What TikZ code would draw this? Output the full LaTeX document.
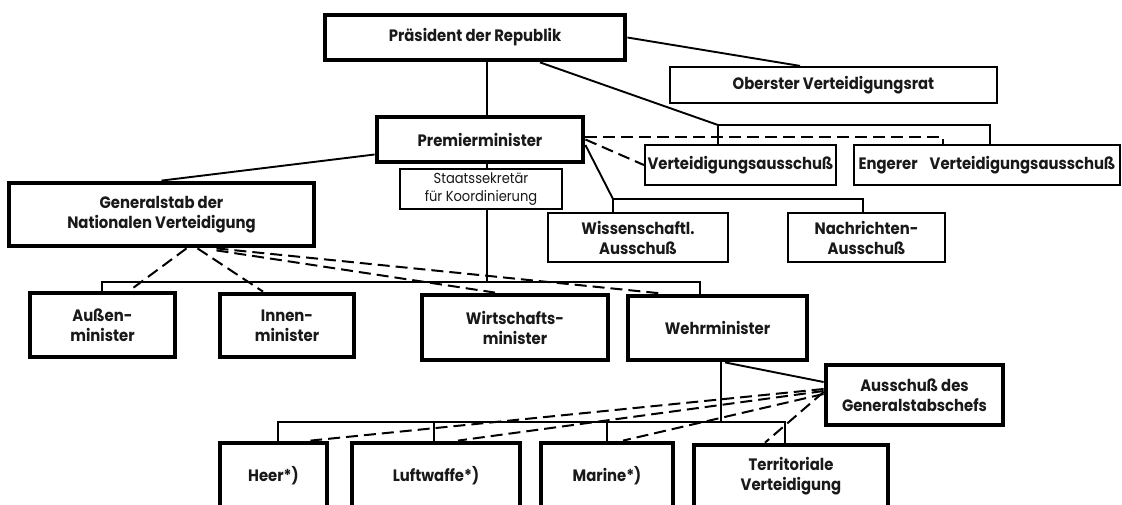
\documentclass[tikz,border=0pt]{standalone}
\usepackage{fontspec}
\setmainfont{Poppins}[FakeStretch=0.9]
\begin{document}
\begin{tikzpicture}[x=1pt,y=-1pt,
  every node/.style={font=\fontsize{16.5}{20}\selectfont\bfseries, align=center, inner sep=0pt, text=black!90},
  thickbox/.style={draw, line width=4.8pt, rectangle, fill=white},
  thinbox/.style={draw, line width=2.2pt, rectangle, fill=white},
  conn/.style={line width=1.9pt},
  dconn/.style={line width=2pt, dash pattern=on 12pt off 6pt},
]
\useasboundingbox (0,0) rectangle (1122,504);
\clip (0,0) rectangle (1122,504);
\fill[white] (0,0) rectangle (1122,504);

% boxes
\node[thickbox, minimum width=300, minimum height=45] (pres) at (475,37.5) {Präsident der Republik};
\node[thinbox, minimum width=327, minimum height=36] (ober) at (833.5,85) {Oberster Verteidigungsrat};
\node[thickbox, minimum width=206, minimum height=45] (prem) at (480,139.5) {Premierminister};
\node[thinbox, minimum width=191, minimum height=40] (vert) at (740.5,165) {Verteidigungsausschuß};
\node[thinbox, minimum width=266, minimum height=40] (enger) at (987,165) {Engerer\hspace{12pt}Verteidigungsausschuß};
\node[thickbox, minimum width=305, minimum height=63] (gen) at (161.5,214.5) {Generalstab der\\Nationalen Verteidigung};
\node[thinbox, minimum width=162, minimum height=40, font=\fontsize{14.5}{18}\selectfont] (staats) at (481,189) {Staatssekretär\\für Koordinierung};
\node[thinbox, minimum width=180, minimum height=49] (wiss) at (638,237.5) {Wissenschaftl.\\Ausschuß};
\node[thinbox, minimum width=157, minimum height=49] (nach) at (866.5,237.5) {Nachrichten-\\Ausschuß};
\node[thickbox, minimum width=145, minimum height=64] (aussen) at (102.5,325) {Außen-\\minister};
\node[thickbox, minimum width=134, minimum height=63] (innen) at (287,325.5) {Innen-\\minister};
\node[thickbox, minimum width=186, minimum height=65] (wirt) at (515,327.5) {Wirtschafts-\\minister};
\node[thickbox, minimum width=179, minimum height=64] (wehr) at (717.5,328) {Wehrminister};
\node[thickbox, minimum width=177, minimum height=60] (agc) at (914.5,395) {Ausschuß des\\Generalstabschefs};
\node[thickbox, minimum width=107, minimum height=65] (heer) at (273.5,475.5) {Heer*)};
\node[thickbox, minimum width=168, minimum height=65] (luft) at (436,475.5) {Luftwaffe*)};
\node[thickbox, minimum width=132, minimum height=65] (marine) at (607,475.5) {Marine*)};
\node[thickbox, minimum width=194, minimum height=63] (terr) at (791,476.5) {Territoriale\\Verteidigung};

% helper coordinates
\coordinate (vx) at (487,0);
\coordinate (barL) at (102,282);
\coordinate (barR) at (700,282);
\coordinate (b1) at (718,125);
\coordinate (b2) at (990,125);
\coordinate (d1) at (943,137);
\coordinate (c1) at (613,199);
\coordinate (c2) at (863,199);
\coordinate (o1) at (800,0);
\coordinate (vb) at (721,0);
\coordinate (bbL) at (278,422);
\coordinate (bbR) at (785,422);
\coordinate (lx) at (434,0);

% solid connectors
\draw[conn] (pres.south -| vx) -- (prem.north -| vx);
\draw[conn] (prem.south -| vx) -- (staats.north -| vx);
\draw[conn] (staats.south -| vx) -- (vx |- barL);
\draw[conn] (aussen.north -| barL) -- (barL) -- (barR) -- (wehr.north -| barR);
\draw[conn] (pres.east) -- (ober.north -| o1);
\draw[conn] ([xshift=65pt]pres.south) -- (b1);
\draw[conn] (vert.north -| b1) -- (b1) -- (b2) -- (enger.north -| b2);
\draw[conn] ([yshift=-5.5pt]prem.east) -- (c1) -- (c2) -- (nach.north -| c2);
\draw[conn] (c1) -- (wiss.north -| c1);
\draw[conn] ([yshift=-15pt]prem.west) -- (gen.north);
\draw[conn] (wehr.south -| vb) -- (vb |- bbL);
\draw[conn] (heer.north -| bbL) -- (bbL) -- (bbR) -- (terr.north -| bbR);
\draw[conn] (luft.north -| lx) -- (lx |- bbL);
\draw[conn] (marine.north) -- (marine.north |- bbL);
\draw[conn] ([xshift=7.5pt]wehr.south) -- ([yshift=13pt]agc.west);

% dashed connectors
\draw[dconn] ([yshift=2.5pt]prem.east) -- (d1) -- (enger.north -| d1);
\draw[dconn] (prem.east) -- (vert.west);
\draw[dconn] ([xshift=25pt]gen.south) -- ([xshift=27pt]aussen.north);
\draw[dconn] ([xshift=36pt]gen.south) -- ([xshift=-24pt]innen.north);
\draw[dconn] ([xshift=55pt,yshift=-2pt]gen.south) -- ([xshift=-20pt]wirt.north);
\draw[dconn] ([xshift=55pt]gen.south) -- ([xshift=-54.5pt]wehr.north);
\draw[dconn] ([yshift=6pt]agc.west) -- ([xshift=37pt]heer.north);
\draw[dconn] ([yshift=4pt]agc.west) -- ([xshift=22pt]luft.north);
\draw[dconn] ([yshift=1pt]agc.west) -- ([xshift=16pt]marine.north);
\draw[dconn] ([yshift=3pt]agc.west) -- ([xshift=-26pt]terr.north);
\end{tikzpicture}
\end{document}
